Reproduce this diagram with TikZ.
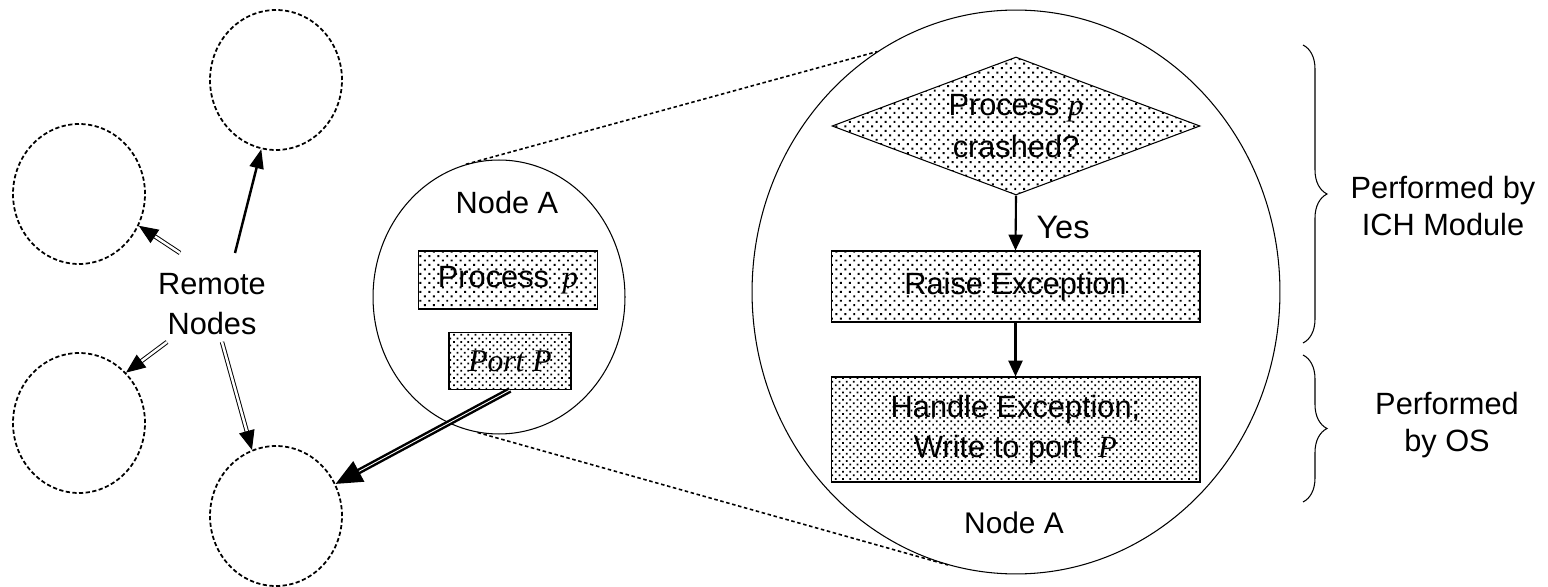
\documentclass[tikz,border=0pt]{standalone}
\usepackage{fontspec}
\setmainfont{Liberation Sans}
\newfontfamily\tnr{Liberation Serif}
\usetikzlibrary{shapes.geometric,arrows.meta,patterns.meta,decorations.pathreplacing}
\newcommand{\ip}[1]{{\tnr\itshape #1}}
\begin{document}
\begin{tikzpicture}[x=0.02cm,y=-0.02cm,
  remote/.style={ellipse, draw, line width=1pt, dash pattern=on 2.4pt off 1.4pt, inner sep=0pt, minimum width=2.64cm, minimum height=2.8cm},
  zoomc/.style={ellipse, draw, line width=0.6pt, inner sep=0pt},
  sparse/.style={pattern={Dots[distance=3.6pt,radius=0.8pt,angle=45]}},
  dense/.style={pattern={Dots[distance=2.9pt,radius=0.7pt,angle=45]}},
  box/.style={draw, line width=0.6pt, rectangle, inner sep=0pt, align=center, font=\fontsize{17.5}{23}\selectfont},
  lbl/.style={align=center, font=\fontsize{17.5}{22.5}\selectfont},
  flow/.style={-{Triangle[length=9pt,width=8pt]}, line width=1.2pt},
  hollow/.style={draw=black, double=white, line width=0.55pt, double distance=1.4pt, -{Triangle[length=11pt,width=9pt]}},
  solidarr/.style={line width=1.4pt, -{Triangle[length=11pt,width=8pt]}},
  bigarr/.style={draw=black, double=white, line width=1.4pt, double distance=0.5pt, -{Triangle[length=15pt,width=13pt]}},
  zoomline/.style={line width=0.9pt, dash pattern=on 2pt off 1.5pt},
  bracestyle/.style={decorate, decoration={brace, amplitude=0.48cm}, line width=0.6pt}
]
\useasboundingbox (0,0) rectangle (1548,587);

% remote nodes
\node[remote] (rt) at (276,80) {};
\node[remote] (rl1) at (79,194) {};
\node[remote] (rl2) at (79,423) {};
\node[remote] (rb) at (276,516) {};
\node[lbl] (rn) at (212,304) {Remote\\Nodes};
\coordinate (s1) at (235,253);
\coordinate (s2) at (180,253);
\coordinate (s3) at (167,342);
\coordinate (s4) at (222,342);
\draw[solidarr] (s1) -- (rt.258);
\draw[hollow] (s2) -- (rl1.332);
\draw[hollow] (s3) -- (rl2.47);
\draw[hollow] (s4) -- (rb.110);

% zoom circles
\node[zoomc, minimum width=5.04cm, minimum height=5.48cm] (na) at (499,297) {};
\node[zoomc, minimum width=10.56cm, minimum height=11.28cm] (nb) at (1016,292) {};
\draw[zoomline] (na.104) -- (nb.120);
\draw[zoomline] (na.261) -- (nb.256);

% small node A
\node[lbl, font=\fontsize{17.5}{20}\selectfont] (natext) at (507,203) {Node A};
\node[box, sparse, minimum width=3.58cm, minimum height=1.16cm] (pp) at (508,280) {Process \,\ip{p}};
\node[box, dense, minimum width=2.44cm, minimum height=1.14cm, font=\fontsize{18}{20}\selectfont] (pt) at (510,361) {\ip{Port P}};
\draw[bigarr] (pt.south) -- (rb);

% big node A flowchart
\node[diamond, draw, line width=0.6pt, sparse, inner sep=0pt, aspect=2.67, minimum width=7.36cm, minimum height=2.76cm, align=center, font=\fontsize{17.5}{24}\selectfont] (dm) at (1016,126) {Process \ip{p}\\crashed?};
\node[box, sparse, minimum width=7.38cm, minimum height=1.42cm] (re) at (1015.5,286.5) {Raise Exception};
\node[box, dense, minimum width=7.38cm, minimum height=2.1cm] (he) at (1015.5,429.5) {Handle Exception;\\Write to port \ \ip{P}};
\draw[flow] (dm.south) -- (re.north);
\draw[flow] (re.south) -- (he.north);
\node[lbl, font=\fontsize{18.5}{20}\selectfont] (yes) at (1063,227) {Yes};
\node[lbl, font=\fontsize{17}{20}\selectfont] (nbtext) at (1014,523) {Node A};

% braces
\draw[bracestyle] (1303,45) -- (1303,343);
\draw[bracestyle] (1303,355) -- (1303,502);
\node[lbl, font=\fontsize{17.5}{21}\selectfont] (ich) at (1443,206) {Performed by\\ICH Module};
\node[lbl, font=\fontsize{17.5}{21}\selectfont] (os) at (1447,425) {Performed\\by OS};
\end{tikzpicture}
\end{document}
